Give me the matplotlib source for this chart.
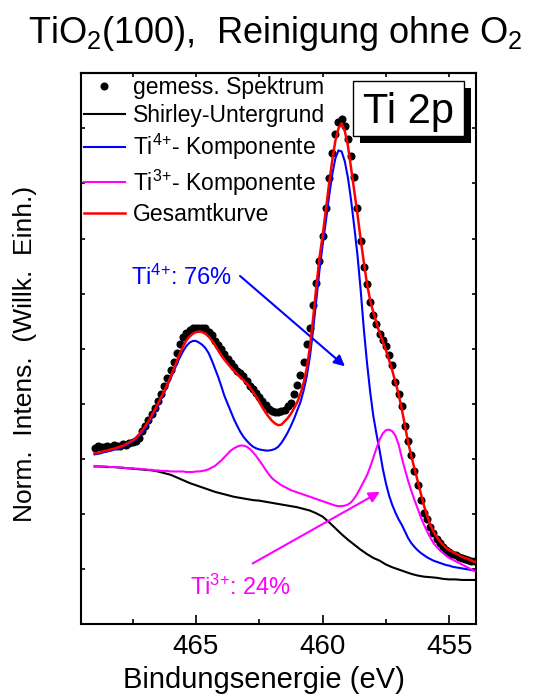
import numpy as np
import matplotlib
matplotlib.use("Agg")
import matplotlib.pyplot as plt
from matplotlib.patches import Rectangle
from matplotlib.ticker import MultipleLocator

plt.rcParams['font.family'] = ['Liberation Sans', 'DejaVu Sans']
plt.rcParams['mathtext.fontset'] = 'custom'
plt.rcParams['mathtext.rm'] = 'Liberation Sans'
plt.rcParams['mathtext.default'] = 'regular'
plt.rcParams['axes.linewidth'] = 1.5

# binding energy grids (eV), 0.125 eV for spectrum and fit components, 0.25 eV for background
energy = np.arange(469.0, 453.99, -0.125)
energy_bg = np.arange(469.0, 453.99, -0.25)

# measured Ti 2p spectrum
measured = [
    3.20, 3.23, 3.21, 3.22, 3.24, 3.22, 3.25, 3.23,
    3.24, 3.26, 3.25, 3.28, 3.30, 3.32, 3.38, 3.50,
    3.60, 3.70, 3.82, 3.93, 4.05, 4.18, 4.32, 4.47,
    4.61, 4.76, 4.93, 5.09, 5.21, 5.29, 5.34, 5.37,
    5.38, 5.38, 5.37, 5.37, 5.31, 5.24, 5.14, 5.06,
    4.99, 4.91, 4.82, 4.74, 4.67, 4.60, 4.56, 4.51,
    4.41, 4.32, 4.26, 4.20, 4.13, 4.05, 3.98, 3.91,
    3.87, 3.85, 3.85, 3.86, 3.88, 3.95, 4.02, 4.18,
    4.34, 4.52, 4.75, 5.08, 5.38, 5.80, 6.20, 6.60,
    7.05, 7.55, 8.10, 8.55, 8.90, 9.12, 9.17, 9.05,
    8.80, 8.50, 8.12, 7.55, 6.95, 6.48, 6.18, 5.85,
    5.62, 5.45, 5.27, 5.15, 5.04, 4.88, 4.70, 4.40,
    4.18, 3.95, 3.60, 3.32, 3.07, 2.78, 2.52, 2.26,
    2.02, 1.90, 1.77, 1.65, 1.54, 1.47, 1.40, 1.35,
    1.31, 1.28, 1.25, 1.22, 1.20, 1.18, 1.16, 1.15,
    1.14,
]

# Shirley background
shirley = [
    2.86, 2.86, 2.85, 2.85, 2.84, 2.83, 2.82, 2.81,
    2.80, 2.79, 2.77, 2.74, 2.71, 2.66, 2.61, 2.56,
    2.52, 2.48, 2.44, 2.40, 2.37, 2.34, 2.31, 2.29,
    2.27, 2.25, 2.24, 2.22, 2.20, 2.18, 2.16, 2.14,
    2.12, 2.09, 2.06, 2.01, 1.95, 1.85, 1.74, 1.63,
    1.53, 1.44, 1.35, 1.27, 1.20, 1.15, 1.08, 1.03,
    0.99, 0.95, 0.91, 0.88, 0.86, 0.85, 0.84, 0.82,
    0.81, 0.81, 0.80, 0.80, 0.80,
]

# Ti4+ component (on top of background)
ti4 = [
    3.08, 3.09, 3.10, 3.12, 3.13, 3.15, 3.16, 3.18,
    3.20, 3.22, 3.25, 3.28, 3.31, 3.35, 3.41, 3.47,
    3.55, 3.64, 3.74, 3.85, 3.96, 4.08, 4.20, 4.33,
    4.46, 4.59, 4.73, 4.85, 4.96, 5.05, 5.11, 5.14,
    5.14, 5.11, 5.07, 5.01, 4.92, 4.79, 4.64, 4.49,
    4.32, 4.14, 4.00, 3.86, 3.72, 3.60, 3.49, 3.40,
    3.33, 3.27, 3.22, 3.19, 3.17, 3.16, 3.15, 3.15,
    3.16, 3.18, 3.22, 3.29, 3.38, 3.48, 3.60, 3.73,
    3.88, 4.03, 4.24, 4.50, 4.86, 5.34, 5.88, 6.42,
    6.88, 7.30, 7.75, 8.15, 8.45, 8.60, 8.58, 8.40,
    8.10, 7.69, 7.21, 6.70, 6.07, 5.36, 4.75, 4.22,
    3.78, 3.45, 3.15, 2.82, 2.55, 2.33, 2.16, 2.02,
    1.90, 1.80, 1.68, 1.56, 1.47, 1.40, 1.34, 1.29,
    1.25, 1.21, 1.18, 1.15, 1.13, 1.11, 1.09, 1.07,
    1.06, 1.04, 1.03, 1.02, 1.01, 1.00, 0.99, 0.98,
    0.97,
]

# Ti3+ component (on top of background)
ti3 = [
    2.87, 2.87, 2.86, 2.86, 2.86, 2.85, 2.85, 2.85,
    2.84, 2.84, 2.83, 2.83, 2.83, 2.82, 2.82, 2.81,
    2.81, 2.80, 2.80, 2.79, 2.79, 2.78, 2.78, 2.78,
    2.77, 2.77, 2.77, 2.77, 2.77, 2.76, 2.76, 2.76,
    2.77, 2.77, 2.78, 2.79, 2.81, 2.84, 2.87, 2.92,
    2.97, 3.03, 3.09, 3.15, 3.19, 3.22, 3.24, 3.24,
    3.22, 3.18, 3.12, 3.05, 2.97, 2.89, 2.80, 2.72,
    2.65, 2.60, 2.56, 2.52, 2.49, 2.46, 2.43, 2.41,
    2.39, 2.37, 2.35, 2.33, 2.31, 2.29, 2.27, 2.25,
    2.23, 2.21, 2.19, 2.17, 2.15, 2.14, 2.14, 2.15,
    2.17, 2.21, 2.28, 2.37, 2.48, 2.59, 2.70, 2.85,
    3.02, 3.19, 3.35, 3.46, 3.52, 3.53, 3.50, 3.42,
    3.26, 3.02, 2.80, 2.60, 2.42, 2.25, 2.10, 1.94,
    1.80, 1.68, 1.57, 1.47, 1.40, 1.34, 1.29, 1.24,
    1.20, 1.17, 1.14, 1.11, 1.08, 1.05, 1.02, 0.99,
    0.96,
]

# total fit
total = [
    3.10, 3.11, 3.12, 3.14, 3.15, 3.17, 3.18, 3.20,
    3.22, 3.24, 3.27, 3.30, 3.33, 3.38, 3.44, 3.51,
    3.59, 3.68, 3.78, 3.89, 4.00, 4.12, 4.23, 4.35,
    4.49, 4.63, 4.78, 4.92, 5.05, 5.15, 5.22, 5.27,
    5.30, 5.31, 5.30, 5.27, 5.22, 5.15, 5.07, 4.97,
    4.88, 4.80, 4.73, 4.66, 4.60, 4.54, 4.48, 4.43,
    4.37, 4.30, 4.22, 4.13, 4.03, 3.93, 3.84, 3.76,
    3.69, 3.64, 3.61, 3.62, 3.68, 3.74, 3.82, 3.92,
    4.03, 4.18, 4.38, 4.65, 5.03, 5.55, 6.12, 6.65,
    7.05, 7.51, 7.98, 8.40, 8.77, 9.00, 9.09, 8.95,
    8.68, 8.27, 7.86, 7.44, 6.99, 6.57, 6.18, 5.88,
    5.66, 5.47, 5.28, 5.13, 4.97, 4.79, 4.60, 4.39,
    4.17, 3.90, 3.60, 3.30, 3.05, 2.82, 2.60, 2.37,
    2.15, 1.97, 1.80, 1.68, 1.58, 1.50, 1.44, 1.38,
    1.34, 1.31, 1.28, 1.25, 1.22, 1.20, 1.18, 1.15,
    1.13,
]

fig = plt.figure(figsize=(5.43, 6.98), dpi=100)
ax = fig.add_axes([0.149, 0.106, 0.727, 0.789])

ax.plot(energy, measured, 'o', color='black', ms=4.8, label='gemess. Spektrum', zorder=2)
ax.plot(energy_bg, shirley, color='black', lw=1.5, label='Shirley-Untergrund', zorder=3)
ax.plot(energy, ti4, color='#0000ff', lw=1.5, label='Ti$^{4{+}}$- Komponente', zorder=3)
ax.plot(energy, ti3, color='#ff00ff', lw=1.5, label='Ti$^{3{+}}$- Komponente', zorder=3)
ax.plot(energy, total, color='#ff0000', lw=1.8, label='Gesamtkurve', zorder=4)

ax.set_xlim(469.54, 453.96)
ax.set_ylim(0, 10)

ax.xaxis.set_major_locator(MultipleLocator(5))
ax.xaxis.set_minor_locator(MultipleLocator(2.5))
ax.yaxis.set_major_locator(MultipleLocator(1))
ax.tick_params(axis='x', which='major', direction='in', length=6.5, width=1.2,
               labelsize=20, pad=7.5, top=False)
ax.tick_params(axis='x', which='minor', direction='in', length=3.6, width=1.2, top=False)
ax.tick_params(axis='y', which='major', direction='in', length=3, width=1.2,
               left=True, right=True, labelleft=False)

top = ax.secondary_xaxis('top')
top.xaxis.set_major_locator(MultipleLocator(2.5))
top.tick_params(direction='in', length=3, width=1.2, labeltop=False)

ax.set_xlabel('Bindungsenergie (eV)', fontsize=21)
ax.xaxis.set_label_coords(0.464, -0.076)
ax.set_ylabel('Norm.  Intens.  (Willk.  Einh.)', fontsize=19)
ax.yaxis.set_label_coords(-0.11, 0.49)

leg = ax.legend(loc='upper left', bbox_to_anchor=(0.0, 1.0), frameon=False,
                fontsize=16.5, handlelength=1.8, handletextpad=0.35,
                labelspacing=0.22, borderpad=0.12, borderaxespad=0.0, numpoints=1)

# Ti 2p box with offset shadow
ax.add_patch(Rectangle((0.707, 0.873), 0.281, 0.100, transform=ax.transAxes,
                       facecolor='black', edgecolor='none', clip_on=False, zorder=6))
ax.add_patch(Rectangle((0.689, 0.886), 0.281, 0.100, transform=ax.transAxes,
                       facecolor='white', edgecolor='black', lw=1.0, clip_on=False, zorder=7))
ax.text(0.830, 0.909, 'Ti 2p', transform=ax.transAxes, fontsize=30,
        ha='center', va='baseline', zorder=8)

# component fractions with arrows
ax.text(467.57, 6.15, 'Ti$^{4{+}}$: 76%', color='#0000ff', fontsize=17, va='baseline')
ax.annotate('', xy=(459.12, 4.68), xytext=(463.26, 6.32),
            arrowprops=dict(arrowstyle='-|>', color='#0000ff', lw=1.5,
                            mutation_scale=16, shrinkA=0, shrinkB=0))
ax.text(465.24, 0.53, 'Ti$^{3{+}}$: 24%', color='#ff00ff', fontsize=17, va='baseline')
ax.annotate('', xy=(457.74, 2.40), xytext=(462.76, 1.10),
            arrowprops=dict(arrowstyle='-|>', color='#ff00ff', lw=1.5,
                            mutation_scale=16, shrinkA=0, shrinkB=0))

fig.text(0.506, 0.938, 'TiO$_2$(100),  Reinigung ohne O$_2$', fontsize=26,
         ha='center', va='baseline')

fig.savefig('out.png', dpi=100)
